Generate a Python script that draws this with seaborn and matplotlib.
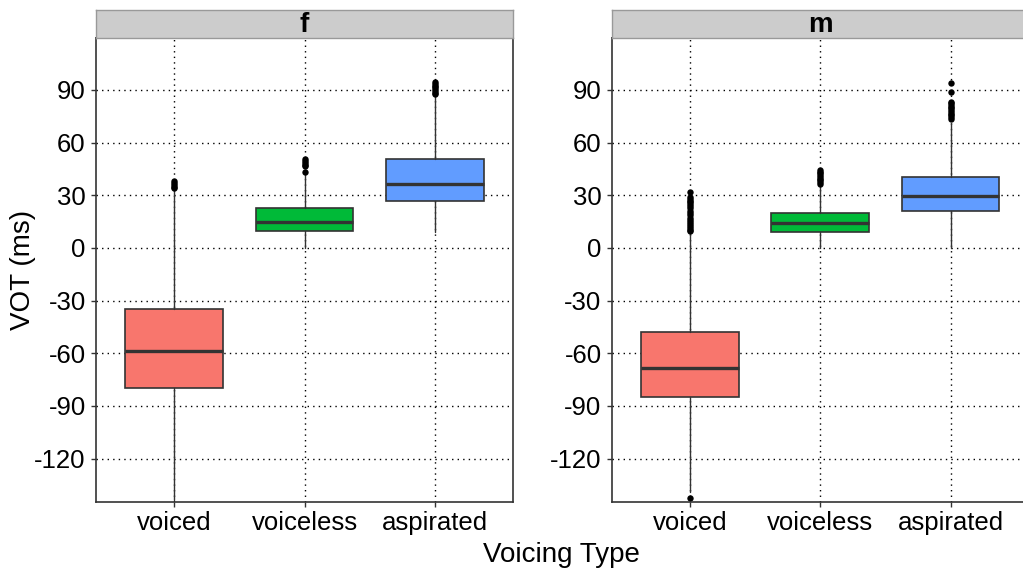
import numpy as np
import matplotlib
matplotlib.use("Agg")
import matplotlib.pyplot as plt
import seaborn as sns

# ---------------- data ----------------
categories = ["voiced", "voiceless", "aspirated"]
panels = ["f", "m"]
colors = ["#F8766D", "#00BA38", "#619CFF"]

# female
f_q1 = [-79.7, 9.7, 26.8]
f_med = [-58.7, 14.8, 36.6]
f_q3 = [-34.6, 23.0, 50.9]
f_whislo = [-143.5, 0.0, 9.3]
f_whishi = [33.0, 42.0, 86.5]
f_out_voiced = [34, 35, 36, 37, 38]
f_out_voiceless = [43.5, 46.5, 47.5, 48.5, 49.5, 50.5]
f_out_aspirated = [87.5, 88.5, 89.5, 90.5, 91.5, 92.5, 93.5, 94.3]

# male
m_q1 = [-85.1, 9.3, 21.1]
m_med = [-68.2, 14.1, 29.8]
m_q3 = [-47.8, 20.1, 40.6]
m_whislo = [-139.0, 0.0, 0.0]
m_whishi = [8.0, 35.5, 71.0]
m_out_voiced = [-142.6, 9.5, 10.5, 11.5, 12.5, 13.5, 15, 16, 17, 18.5, 20, 21,
                22.5, 24, 25, 26, 27, 28, 29, 31.6]
m_out_voiceless = [36.5, 37.5, 38.5, 39.5, 40.5, 41.5, 42.5, 43.5, 44.2]
m_out_aspirated = [73.5, 74.5, 75.5, 76.5, 77.5, 78.5, 79.5, 80.5, 81.5, 82.5,
                   83, 88.7, 93.8]

y_ticks = [-120, -90, -60, -30, 0, 30, 60, 90]
y_lim = (-144.7, 119.6)

# ---------------- style ----------------
sns.set_theme(style="white")
plt.rcParams["font.family"] = ["Liberation Sans", "DejaVu Sans"]
plt.rcParams["axes.unicode_minus"] = False

W, H = 1023, 568
fig = plt.figure(figsize=(W / 100, H / 100), dpi=100)

panel_data = {
    "f": (f_q1, f_med, f_q3, f_whislo, f_whishi,
          [f_out_voiced, f_out_voiceless, f_out_aspirated]),
    "m": (m_q1, m_med, m_q3, m_whislo, m_whishi,
          [m_out_voiced, m_out_voiceless, m_out_aspirated]),
}

panel_left = [96.0, 611.8]
panel_w = 417.0
panel_top, panel_bot = 38.0, 502.0
strip_top = 9.5

edge = "#333333"
for i, p in enumerate(panels):
    q1, med, q3, wlo, whi, outs = panel_data[p]
    ax = fig.add_axes([panel_left[i] / W, 1 - panel_bot / H,
                       panel_w / W, (panel_bot - panel_top) / H])
    stats = []
    for j, c in enumerate(categories):
        stats.append(dict(label=c, q1=q1[j], med=med[j], q3=q3[j],
                          whislo=wlo[j], whishi=whi[j],
                          fliers=np.array(outs[j], dtype=float)))
    bp = ax.bxp(stats, positions=range(len(categories)), widths=0.75,
                patch_artist=True, showcaps=False,
                boxprops=dict(edgecolor=edge, linewidth=1.2),
                medianprops=dict(color=edge, linewidth=2.4, solid_capstyle="butt"),
                whiskerprops=dict(color=edge, linewidth=1.0),
                flierprops=dict(marker="o", markerfacecolor="black",
                                markeredgewidth=0, markersize=4.6))
    for patch, col in zip(bp["boxes"], colors):
        patch.set_facecolor(col)
    ax.set_xlim(-0.6, 2.6)
    ax.set_ylim(*y_lim)
    ax.set_yticks(y_ticks)
    ax.set_yticklabels([str(v) for v in y_ticks])
    ax.set_xticks(range(len(categories)))
    ax.set_xticklabels(categories)
    ax.set_axisbelow(True)
    ax.grid(True, color="black", linestyle=(0, (1, 3)), linewidth=1.0)
    ax.set_facecolor("white")
    for s in ax.spines.values():
        s.set_visible(True)
        s.set_color(edge)
        s.set_linewidth(1.2)
    ax.tick_params(axis="both", which="major", length=3.4, width=1.0,
                   color=edge, labelsize=18.5, labelcolor="black",
                   left=True, bottom=True)
    ax.tick_params(axis="y", pad=4)
    ax.tick_params(axis="x", pad=3)

    # strip
    sax = fig.add_axes([panel_left[i] / W, 1 - panel_top / H,
                        panel_w / W, (panel_top - strip_top) / H])
    sax.set_facecolor("#CCCCCC")
    sax.set_xticks([])
    sax.set_yticks([])
    for s in sax.spines.values():
        s.set_color("#999999")
        s.set_linewidth(1.0)
    sax.text(0.5, 0.45, p, transform=sax.transAxes, ha="center", va="center",
             fontsize=20, fontweight="bold", color="black")

fig.text(561.5 / W, 1 - 562 / H, "Voicing Type", ha="center", va="baseline",
         fontsize=20, color="black")
fig.text(23 / W, 1 - 270 / H, "VOT (ms)", ha="center", va="center",
         rotation=90, fontsize=20, color="black")

fig.savefig("out.png", dpi=100, facecolor="white")
